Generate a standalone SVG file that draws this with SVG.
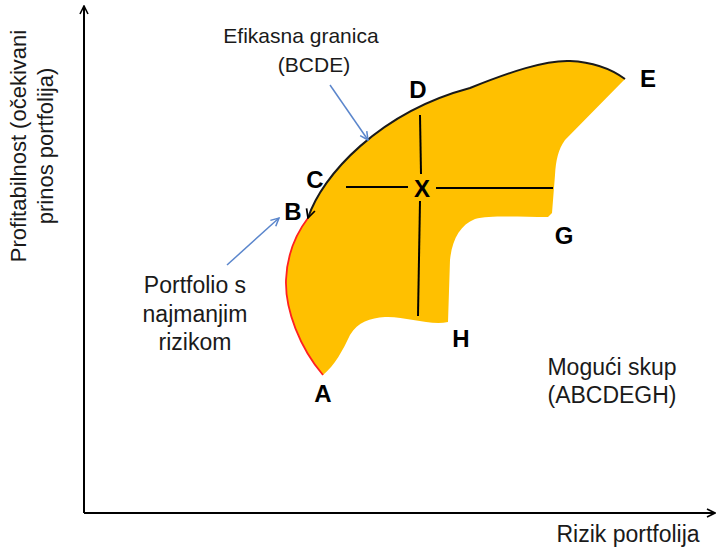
<svg xmlns="http://www.w3.org/2000/svg" width="719" height="550" viewBox="0 0 719 550">
<style>
.lbl{font-family:"Liberation Sans",Arial,sans-serif;fill:#1a1a1a}
.pt{font-family:"Liberation Sans",Arial,sans-serif;font-weight:bold;font-size:24px;fill:#000;text-anchor:middle}
.ax{stroke:#000;stroke-width:2;fill:none}
.cross{stroke:#000;stroke-width:2;fill:none}
.blue{stroke:#5b86cc;stroke-width:1.5;fill:none}
</style>
<defs>
<marker id="open" viewBox="0 0 10 10" refX="9" refY="5" markerWidth="10" markerHeight="10" markerUnits="userSpaceOnUse" orient="auto">
<path d="M1,1 L9,5 L1,9" fill="none" stroke="#000" stroke-width="1.6"/>
</marker>
<marker id="bl" viewBox="0 0 10 10" refX="9" refY="5" markerWidth="10" markerHeight="10" markerUnits="userSpaceOnUse" orient="auto">
<path d="M1,1 L9,5 L1,9" fill="none" stroke="#5b86cc" stroke-width="1.5"/>
</marker>
<marker id="fa" viewBox="0 0 10 10" refX="9" refY="5" markerWidth="11" markerHeight="11" markerUnits="userSpaceOnUse" orient="auto-start-reverse">
<path d="M1,1 L9,5 L1,9" fill="none" stroke="#000" stroke-width="1.6"/>
</marker>
</defs>

<g id="axes">
<line class="ax" x1="84" y1="513" x2="84" y2="6" marker-end="url(#open)"/>
<line class="ax" x1="84" y1="513" x2="715" y2="513" marker-end="url(#open)"/>
<text class="lbl" font-size="22" transform="translate(26,146) rotate(-90)" text-anchor="middle">Profitabilnost (očekivani</text>
<text class="lbl" font-size="22" transform="translate(53,146) rotate(-90)" text-anchor="middle">prinos portfolija)</text>
<text class="lbl" font-size="23" x="628" y="542" text-anchor="middle">Rizik portfolija</text>
</g>

<g id="feasible-set">
<path d="M323,375 C300,348 285,310 286,280 C287,255 295,235 308,218 C322,175 380,112 470,88 C510,72 545,60 570,61 C592,62 610,68 625,79 L565,140 C558,150 556,160 555,175 L552,213 L548,217 C520,217 490,215 475,219 C460,225 452,240 450,260 L448,322 C430,326 405,316 385,317 C370,318 358,322 350,335 C343,350 335,365 323,375 Z" fill="#ffc000"/>
<path d="M323,375 C300,348 285,310 286,280 C287,255 295,235 308,218" fill="none" stroke="#ff2020" stroke-width="1.8"/>
<text class="lbl" font-size="23" x="612" y="375" text-anchor="middle">Mogući skup</text>
<text class="lbl" font-size="23" x="612" y="403" text-anchor="middle">(ABCDEGH)</text>
</g>

<g id="connectors">
<path d="M308,218 C322,175 380,112 470,88 C510,72 545,60 570,61 C592,62 610,68 625,79" fill="none" stroke="#1a1a1a" stroke-width="2" marker-start="url(#fa)"/>
<line class="cross" x1="346" y1="187" x2="408" y2="187"/>
<line class="cross" x1="436" y1="188" x2="553" y2="188"/>
<line class="cross" x1="420" y1="115" x2="421" y2="174"/>
<line class="cross" x1="420" y1="201" x2="418" y2="316"/>
<line class="blue" x1="330" y1="85" x2="368" y2="140" marker-end="url(#bl)"/>
<line class="blue" x1="227" y1="265" x2="279" y2="218" marker-end="url(#bl)"/>
</g>

<g id="efficient-frontier-label">
<text class="lbl" font-size="21" x="301" y="43" text-anchor="middle">Efikasna granica</text>
<text class="lbl" font-size="21" x="314" y="72" text-anchor="middle">(BCDE)</text>
</g>

<g id="min-risk-label">
<text class="lbl" font-size="23" x="195" y="293" text-anchor="middle">Portfolio s</text>
<text class="lbl" font-size="23" x="195" y="322" text-anchor="middle">najmanjim</text>
<text class="lbl" font-size="23" x="195" y="350" text-anchor="middle">rizikom</text>
</g>

<g id="points">
<text class="pt" x="293" y="220">B</text>
<text class="pt" x="315" y="188">C</text>
<text class="pt" x="418" y="98">D</text>
<text class="pt" x="648" y="87">E</text>
<text class="pt" x="422" y="197">X</text>
<text class="pt" x="564" y="244">G</text>
<text class="pt" x="461" y="347">H</text>
<text class="pt" x="323" y="402">A</text>
</g>
</svg>
